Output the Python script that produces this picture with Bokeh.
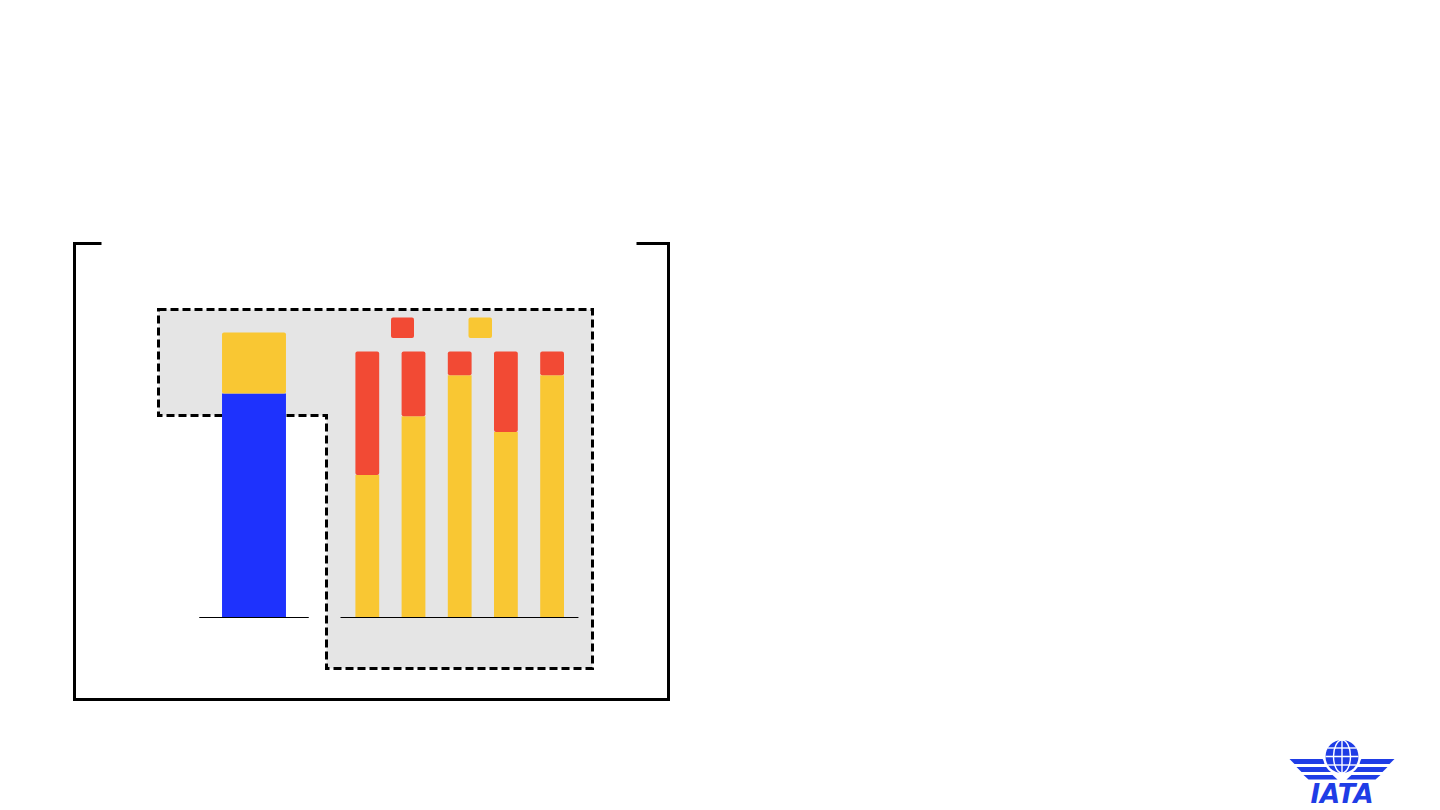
from bokeh.plotting import figure
from bokeh.models import Range1d, ColumnDataSource
from bokeh.core.properties import value
from bokeh.embed import file_html
from bokeh.resources import INLINE

# ---------------- data ----------------
left_categories = ["Total"]
left_blue = [84.2]
left_yellow = [22.9]

right_categories = ["1", "2", "3", "4", "5"]
right_yellow = [53.6, 75.7, 91.1, 69.7, 91.1]
right_red = [46.4, 24.3, 8.9, 30.3, 8.9]

# ---------------- style ----------------
BLUE = "#1e32fd"
YELLOW = "#f9c733"
RED = "#f24a34"
GREY = "#e5e5e5"
LOGO = "#1f3de6"

W, H = 1440, 810

p = figure(width=W, height=H, output_backend="svg", toolbar_location=None, tools="",
           x_range=Range1d(0, W), y_range=Range1d(H, 0),
           x_axis_location=None, y_axis_location=None,
           min_border=0, outline_line_color=None,
           background_fill_color="white", border_fill_color="white")
p.grid.visible = False

# ---- value scales (layout: value 0 at y=617px, 100 at y=351px) ----
base_px, top_px = 617.0, 351.0
ppu = (base_px - top_px) / 100.0
p.extra_y_ranges = {"pct": Range1d(start=(base_px - H) / ppu, end=base_px / ppu)}
# right group: bar i centre at 366.8 + 46.2*i px
r0, rstep = 366.8, 46.2
# left group: single bar centred at 253.5 px, 1 unit = 109.5 px
l0, lstep = 253.5, 109.5
p.extra_x_ranges = {
    "right": Range1d(start=-r0 / rstep, end=(W - r0) / rstep),
    "left": Range1d(start=-l0 / lstep, end=(W - l0) / lstep),
}

# ---- outer bracket frame ----
p.line([101, 74, 74, 668, 668, 636], [243, 243, 699, 699, 243, 243],
       line_color="black", line_width=3, line_join="miter")

# ---- dashed grey highlight region ----
p.patch([158, 592, 592, 326, 326, 158], [309, 309, 668, 668, 415, 415],
        fill_color=GREY, line_color="black", line_width=3, line_dash="8 4",
        line_join="miter")

# ---- left stacked bar ----
lx = list(range(len(left_categories)))
lsrc = ColumnDataSource(dict(x=lx, blue=left_blue,
                             ytop=[b + y for b, y in zip(left_blue, left_yellow)]))
p.vbar(x="x", width=0.584, bottom=0, top="blue", source=lsrc, fill_color=BLUE,
       line_color=None, x_range_name="left", y_range_name="pct")
p.vbar(x="x", width=0.584, bottom="blue", top="ytop", source=lsrc, fill_color=YELLOW,
       line_color=None, x_range_name="left", y_range_name="pct", border_radius=2)
p.segment(x0=[-0.5], y0=[0], x1=[0.5], y1=[0], line_color="black", line_width=1.2,
          x_range_name="left", y_range_name="pct")

# ---- right stacked bars ----
rx = list(range(len(right_categories)))
rsrc = ColumnDataSource(dict(x=rx, yellow=right_yellow,
                             rtop=[a + b for a, b in zip(right_yellow, right_red)]))
p.vbar(x="x", width=0.515, bottom=0, top="yellow", source=rsrc, fill_color=YELLOW,
       line_color=None, x_range_name="right", y_range_name="pct")
p.vbar(x="x", width=0.515, bottom="yellow", top="rtop", source=rsrc, fill_color=RED,
       line_color=None, x_range_name="right", y_range_name="pct", border_radius=2)
p.segment(x0=[-0.58], y0=[0], x1=[4.57], y1=[0], line_color="black", line_width=1.2,
          x_range_name="right", y_range_name="pct")

# ---- legend keys (no labels) ----
p.quad(left=[390.5, 468], right=[413.5, 491.5], top=[317, 317], bottom=[337.5, 337.5],
       fill_color=[RED, YELLOW], line_color=None, border_radius=2)

# ---- IATA logo ----
cx, cy, rr = 1341.5, 756.0, 16.5
for s in (1, -1):
    def X(v):
        return cx + s * (v - cx)
    stripes = [
        [(1289, 758.5), (1322, 758.5), (1327, 763.5), (1294, 763.5)],
        [(1296, 766.5), (1327, 766.5), (1332, 771.5), (1301, 771.5)],
        [(1303, 774.5), (1332, 774.5), (1337, 779), (1308, 779)],
    ]
    for st in stripes:
        p.patch([X(a) for a, b in st], [b for a, b in st], fill_color=LOGO, line_color=None)
p.circle(x=[cx], y=[cy], radius=rr + 2.5, fill_color="white", line_color=None)
p.circle(x=[cx], y=[cy], radius=rr, fill_color=LOGO, line_color=None)
p.ellipse(x=[cx], y=[cy], width=17, height=2 * rr, fill_color=None,
          line_color="white", line_width=1.4)
p.segment(x0=[cx, cx - rr, cx - rr + 2.2, cx - rr + 2.2],
          y0=[cy - rr, cy, cy - 8.5, cy + 8.5],
          x1=[cx, cx + rr, cx + rr - 2.2, cx + rr - 2.2],
          y1=[cy + rr, cy, cy - 8.5, cy + 8.5],
          line_color="white", line_width=1.4)
p.text(x=[cx], y=[808], text=["IATA"], text_font=value("DejaVu Sans"),
       text_font_style="bold italic", text_font_size="26px", text_color=LOGO,
       text_align="center", text_baseline="bottom")

open("out.html", "w").write(file_html(p, INLINE))
